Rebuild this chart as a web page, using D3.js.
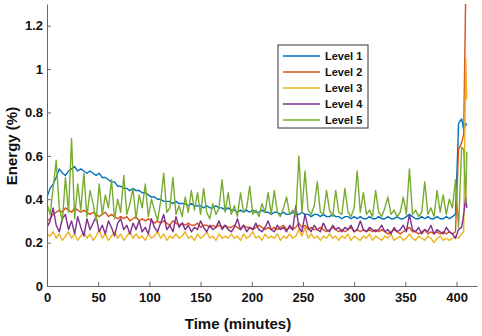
<!DOCTYPE html>
<html>
<head>
<meta charset="utf-8">
<script src="https://cdn.jsdelivr.net/npm/d3@7"></script>
<style>
  body { margin: 0; background: #fff; }
  svg { display: block; font-family: Arial, "Liberation Sans", Helvetica, sans-serif; }
</style>
</head>
<body>
<div id="chart"></div>
<script>
// chart size and plot box
const width = 482,
      height = 336,
      margin = {top: 4, right: 5, bottom: 50, left: 47};

// sample times (minutes): every 3 minutes, then the final readings
const minutes = d3.range(0, 396, 3).concat([396, 399, 402, 405, 407, 409, 410]);

const seriesNames = ["Level 1", "Level 2", "Level 3", "Level 4", "Level 5"];
const seriesColors = ["#0072BD", "#D95319", "#EDB120", "#7E2F8E", "#77AC30"];

const xTicks = [0, 50, 100, 150, 200, 250, 300, 350, 400];
const yTicks = [0, 0.2, 0.4, 0.6, 0.8, 1, 1.2];

// energy (%), one row = 36 minutes
const level1 = [
  0.41,0.45,0.47,0.50,0.54,0.52,0.51,0.53,0.54,0.55,0.53,0.54,
  0.53,0.52,0.53,0.52,0.51,0.52,0.50,0.50,0.49,0.48,0.48,0.46,
  0.46,0.45,0.45,0.44,0.45,0.44,0.44,0.43,0.43,0.42,0.41,0.41,
  0.40,0.40,0.39,0.39,0.39,0.38,0.39,0.38,0.38,0.38,0.37,0.38,
  0.37,0.37,0.37,0.36,0.37,0.36,0.36,0.37,0.36,0.36,0.35,0.36,
  0.35,0.35,0.34,0.35,0.34,0.35,0.34,0.35,0.34,0.34,0.35,0.34,
  0.34,0.33,0.34,0.34,0.33,0.34,0.33,0.33,0.34,0.33,0.33,0.34,
  0.33,0.33,0.32,0.33,0.33,0.32,0.33,0.32,0.32,0.33,0.32,0.32,
  0.31,0.32,0.32,0.31,0.32,0.31,0.32,0.31,0.31,0.32,0.31,0.31,
  0.32,0.31,0.31,0.32,0.31,0.31,0.32,0.31,0.31,0.32,0.33,0.32,
  0.31,0.31,0.32,0.31,0.32,0.31,0.31,0.32,0.31,0.31,0.32,0.31,
  0.32,0.33,0.75,0.77,0.72,0.75,0.74
];
const level2 = [
  0.30,0.31,0.33,0.34,0.35,0.34,0.36,0.35,0.34,0.36,0.35,0.34,
  0.35,0.34,0.33,0.34,0.33,0.32,0.33,0.34,0.32,0.33,0.32,0.31,
  0.32,0.31,0.32,0.30,0.31,0.32,0.30,0.31,0.30,0.31,0.30,0.29,
  0.30,0.29,0.30,0.29,0.28,0.30,0.29,0.28,0.29,0.28,0.29,0.28,
  0.28,0.29,0.27,0.28,0.28,0.27,0.28,0.27,0.28,0.27,0.28,0.27,
  0.27,0.28,0.27,0.26,0.28,0.27,0.27,0.26,0.27,0.28,0.27,0.26,
  0.27,0.26,0.27,0.26,0.27,0.28,0.26,0.27,0.26,0.27,0.29,0.27,
  0.28,0.26,0.27,0.26,0.26,0.27,0.26,0.25,0.26,0.27,0.26,0.25,
  0.26,0.25,0.26,0.27,0.25,0.26,0.25,0.26,0.25,0.26,0.25,0.26,
  0.25,0.26,0.25,0.24,0.25,0.26,0.25,0.24,0.25,0.26,0.27,0.25,
  0.25,0.24,0.25,0.26,0.24,0.25,0.24,0.25,0.24,0.25,0.24,0.25,
  0.24,0.25,0.63,0.66,0.70,1.36,1.36
];
const level3 = [
  0.24,0.23,0.25,0.22,0.24,0.21,0.23,0.25,0.22,0.24,0.21,0.23,
  0.25,0.22,0.24,0.21,0.23,0.26,0.22,0.24,0.21,0.23,0.25,0.22,
  0.24,0.21,0.23,0.25,0.22,0.24,0.22,0.23,0.21,0.24,0.22,0.23,
  0.25,0.22,0.24,0.21,0.23,0.22,0.24,0.22,0.23,0.25,0.22,0.23,
  0.21,0.24,0.22,0.23,0.25,0.22,0.23,0.21,0.24,0.22,0.23,0.22,
  0.24,0.22,0.23,0.21,0.24,0.22,0.23,0.25,0.22,0.23,0.21,0.24,
  0.22,0.23,0.22,0.24,0.21,0.23,0.22,0.24,0.22,0.23,0.26,0.23,
  0.27,0.22,0.24,0.22,0.23,0.21,0.23,0.22,0.24,0.22,0.23,0.21,
  0.23,0.22,0.24,0.21,0.23,0.22,0.21,0.23,0.22,0.24,0.21,0.23,
  0.22,0.21,0.23,0.22,0.24,0.21,0.22,0.23,0.21,0.22,0.24,0.22,
  0.21,0.23,0.22,0.21,0.23,0.22,0.20,0.22,0.23,0.21,0.22,0.21,
  0.22,0.23,0.22,0.24,0.25,1.05,0.86
];
const level4 = [
  0.27,0.30,0.36,0.28,0.25,0.31,0.33,0.26,0.30,0.24,0.32,0.27,
  0.23,0.31,0.26,0.29,0.32,0.25,0.28,0.24,0.30,0.27,0.23,0.29,
  0.31,0.26,0.28,0.24,0.29,0.26,0.30,0.25,0.27,0.24,0.31,0.27,
  0.25,0.29,0.33,0.26,0.28,0.25,0.32,0.27,0.29,0.26,0.28,0.25,
  0.27,0.26,0.30,0.27,0.25,0.28,0.26,0.27,0.30,0.26,0.28,0.26,
  0.25,0.27,0.31,0.26,0.28,0.25,0.27,0.26,0.29,0.26,0.25,0.27,
  0.30,0.26,0.25,0.28,0.26,0.27,0.25,0.28,0.26,0.37,0.27,0.25,
  0.33,0.27,0.25,0.28,0.26,0.25,0.29,0.26,0.25,0.28,0.26,0.27,
  0.25,0.27,0.26,0.28,0.25,0.26,0.30,0.26,0.25,0.27,0.26,0.25,
  0.26,0.28,0.25,0.26,0.24,0.27,0.25,0.26,0.28,0.25,0.33,0.26,
  0.25,0.27,0.24,0.26,0.25,0.28,0.24,0.26,0.25,0.24,0.27,0.25,
  0.24,0.22,0.26,0.27,0.33,0.41,0.36
];
const level5 = [
  0.38,0.33,0.45,0.58,0.36,0.30,0.50,0.34,0.68,0.31,0.47,0.35,
  0.52,0.32,0.44,0.38,0.30,0.47,0.33,0.42,0.36,0.49,0.31,0.40,
  0.34,0.51,0.33,0.38,0.45,0.31,0.42,0.36,0.47,0.32,0.40,0.35,
  0.30,0.39,0.52,0.34,0.36,0.50,0.33,0.37,0.32,0.41,0.34,0.44,
  0.35,0.43,0.33,0.45,0.34,0.31,0.38,0.33,0.36,0.49,0.34,0.43,
  0.33,0.37,0.32,0.43,0.34,0.36,0.46,0.33,0.35,0.32,0.38,0.34,
  0.43,0.33,0.44,0.34,0.32,0.36,0.41,0.33,0.35,0.32,0.60,0.34,
  0.53,0.35,0.33,0.37,0.48,0.34,0.33,0.44,0.35,0.32,0.44,0.34,
  0.33,0.45,0.34,0.32,0.36,0.53,0.34,0.43,0.33,0.35,0.32,0.44,
  0.34,0.32,0.36,0.41,0.33,0.35,0.32,0.34,0.41,0.33,0.54,0.33,
  0.35,0.32,0.34,0.48,0.33,0.36,0.32,0.44,0.34,0.42,0.33,0.40,
  0.36,0.49,0.27,0.64,0.63,0.38,0.62
];
const levels = [level1, level2, level3, level4, level5];

const innerWidth = width - margin.left - margin.right,
      innerHeight = height - margin.top - margin.bottom;

const svg = d3.select("#chart")
              .append("svg")
                .attr("width", width)
                .attr("height", height)
              .append("g")
                .attr("transform", "translate(" + margin.left + "," + margin.top + ")");

const xScale = d3.scaleLinear().domain([0, 420]).range([0, innerWidth]);
const yScale = d3.scaleLinear().domain([0, 1.3]).range([innerHeight, 0]);

// keep lines inside the axes (Level 2 runs off the top)
svg.append("clipPath")
    .attr("id", "plot-clip")
  .append("rect")
    .attr("width", innerWidth)
    .attr("height", innerHeight);

const line = d3.line()
  .x((d, i) => xScale(minutes[i]))
  .y(d => yScale(d));

svg.append("g")
    .attr("clip-path", "url(#plot-clip)")
  .selectAll("path")
  .data(levels)
  .enter()
  .append("path")
    .attr("fill", "none")
    .attr("stroke", (d, i) => seriesColors[i])
    .attr("stroke-width", 1.4)
    .attr("stroke-linejoin", "round")
    .attr("d", line);

// axes, ticks pointing inward like matlab
const xAxis = svg.append("g")
  .attr("class", "x-axis")
  .attr("transform", "translate(0," + innerHeight + ")")
  .call(d3.axisBottom(xScale).tickValues(xTicks).tickFormat(d3.format("d"))
        .tickSizeInner(-4).tickSizeOuter(0).tickPadding(7));

const yAxis = svg.append("g")
  .attr("class", "y-axis")
  .call(d3.axisLeft(yScale).tickValues(yTicks).tickFormat(d => String(d))
        .tickSizeInner(-4).tickSizeOuter(0).tickPadding(4));

svg.selectAll(".x-axis, .y-axis").selectAll("path, line")
  .attr("stroke", "#666")
  .attr("stroke-width", 1);
svg.selectAll(".x-axis, .y-axis").selectAll("text")
  .attr("fill", "#111")
  .style("font-size", "13px")
  .style("font-weight", "bold")
  .style("font-family", "Arial, 'Liberation Sans', sans-serif");

// axis labels
svg.append("text")
  .attr("x", 238 - margin.left)
  .attr("y", 329 - margin.top)
  .style("text-anchor", "middle")
  .style("font-size", "15px")
  .style("font-weight", "bold")
  .attr("fill", "#111")
  .text("Time (minutes)");

svg.append("text")
  .attr("transform", "rotate(-90)")
  .attr("x", -(146 - margin.top))
  .attr("y", 17 - margin.left)
  .style("text-anchor", "middle")
  .style("font-size", "15px")
  .style("font-weight", "bold")
  .attr("fill", "#111")
  .text("Energy (%)");

// legend
const legend = svg.append("g")
  .attr("transform", "translate(" + (278 - margin.left) + "," + (45 - margin.top) + ")");

legend.append("rect")
  .attr("width", 90)
  .attr("height", 83)
  .attr("fill", "#fff")
  .attr("stroke", "#333")
  .attr("stroke-width", 1);

const items = legend.selectAll(".item")
  .data(seriesNames)
  .enter()
  .append("g")
    .attr("class", "item")
    .attr("transform", (d, i) => "translate(0," + (11 + i * 16) + ")");

items.append("line")
  .attr("x1", 5).attr("x2", 42)
  .attr("stroke", (d, i) => seriesColors[i])
  .attr("stroke-width", 1.4);

items.append("text")
  .attr("x", 47)
  .attr("dy", "0.35em")
  .style("font-size", "11px")
  .style("font-weight", "bold")
  .attr("fill", "#111")
  .text(d => d);
</script>
</body>
</html>
